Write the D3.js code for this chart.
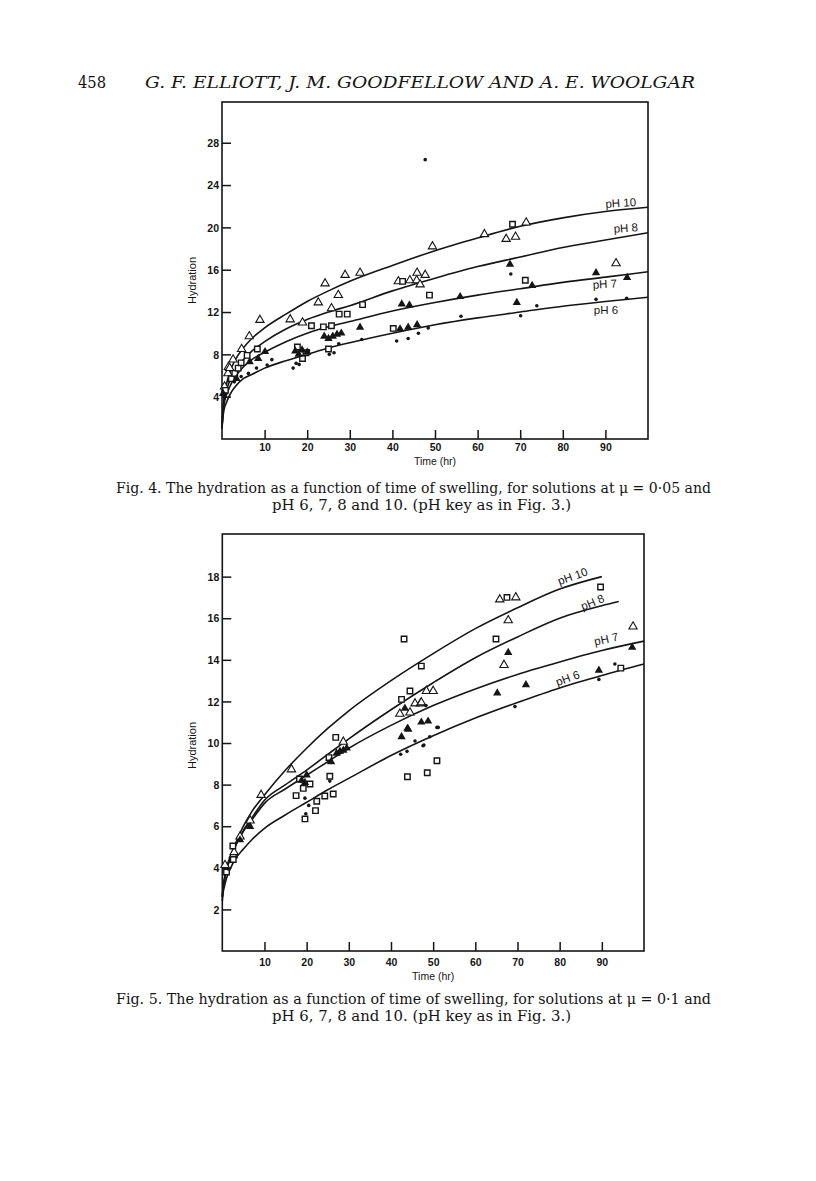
<!DOCTYPE html>
<meta charset="utf-8">
<script src="https://d3js.org/d3.v7.min.js"></script>
<style>
  body { margin: 0; background: #fff; }
  svg { display: block; }
</style>
<div id="page"></div>
<script>

    // ---------- Fig. 4 (mu = 0.05) ----------
    var tCurve4 = [0, 0.2, 0.5, 1, 2, 3, 5, 7, 10, 15, 20, 25, 30, 40, 50, 60, 70, 80, 90, 100];
    var fig4pH10 = [1.0, 2.7, 4.0, 5.1, 6.5, 7.4, 8.6, 9.5, 10.5, 11.8, 13.0, 14.0, 14.9, 16.4, 17.8, 19.0, 20.1, 20.9, 21.5, 21.9];
    var fig4pH8 = [1.0, 2.5, 3.6, 4.5, 5.7, 6.4, 7.5, 8.3, 9.2, 10.4, 11.3, 12.0, 12.6, 14.0, 15.2, 16.3, 17.2, 18.1, 18.8, 19.5];
    var fig4pH7 = [1.0, 2.3, 3.3, 4.1, 5.1, 5.8, 6.8, 7.5, 8.2, 9.2, 10.0, 10.6, 11.1, 12.1, 12.9, 13.6, 14.2, 14.8, 15.3, 15.8];
    var fig4pH6 = [1.0, 2.0, 2.8, 3.4, 4.3, 4.9, 5.7, 6.1, 6.7, 7.4, 8.0, 8.6, 9.1, 10.0, 10.8, 11.45, 12.0, 12.55, 13.0, 13.4];

    // points: [time, hydration]
    var fig4OpenTri = [[0.6, 4.95], [1.4, 6.2], [1.5, 6.8], [1.8, 6.7], [2.6, 7.5], [4.6, 8.5], [6.4, 9.7], [8.9, 11.25],
        [16.0, 11.3], [18.9, 11.0], [22.6, 12.9], [24.2, 14.7], [25.7, 12.35], [27.3, 13.6], [28.9, 15.5], [32.4, 15.7],
        [41.4, 14.9], [44.1, 15.0], [45.7, 15.0], [45.8, 15.7], [46.5, 14.6], [47.7, 15.5], [49.4, 18.2], [61.6, 19.35],
        [66.7, 18.9], [68.9, 19.1], [71.4, 20.45], [92.5, 16.6]];
    var fig4Square = [[0.8, 4.6], [2.2, 5.7], [3.0, 6.2], [3.8, 6.7], [4.5, 7.2], [5.9, 7.9], [8.3, 8.5], [17.7, 8.7],
        [18.9, 7.6], [19.7, 8.15], [21.0, 10.7], [23.8, 10.6], [25.0, 8.5], [25.7, 10.7], [27.5, 11.8], [29.4, 11.8],
        [33.0, 12.7], [40.2, 10.45], [42.4, 14.9], [48.7, 13.6], [68.2, 20.3], [71.2, 15.0]];
    var fig4FillTri = [[0.25, 4.3], [3.4, 5.7], [6.5, 7.3], [8.5, 7.6], [10.1, 8.25], [17.2, 8.3], [18.0, 8.0], [18.8, 8.4],
        [20.0, 8.2], [24.0, 9.7], [25.0, 9.5], [26.0, 9.7], [27.0, 9.9], [28.0, 10.0], [32.4, 10.55], [41.8, 10.4],
        [42.2, 12.75], [43.7, 10.55], [44.0, 12.65], [45.8, 10.8], [55.9, 13.45], [67.6, 16.5], [69.2, 12.9],
        [72.8, 14.5], [87.8, 15.7], [95.1, 15.25]];
    var fig4Dot = [[0.6, 4.0], [2.9, 5.4], [4.5, 5.9], [6.2, 6.2], [8.1, 6.7], [10.6, 7.0], [11.7, 7.5], [16.7, 6.7],
        [17.4, 7.15], [18.1, 7.05], [20.3, 8.35], [25.2, 8.0], [26.3, 8.15], [27.4, 9.0], [32.8, 9.4], [41.0, 9.26],
        [43.7, 9.5], [46.1, 10.0], [47.7, 26.4], [48.4, 10.5], [56.1, 11.6], [67.8, 15.6], [70.1, 11.65], [73.9, 12.6],
        [87.8, 13.2], [95.0, 13.3]];

    // ---------- Fig. 5 (mu = 0.1) ----------
    var tCurve5 = [0, 0.2, 0.5, 1, 2, 3, 5, 7, 10, 15, 20, 25, 30, 40, 50, 60, 70, 80, 90];
    var fig5pH10 = [2.6, 3.1, 3.5, 4.0, 4.6, 5.1, 6.0, 6.7, 7.5, 8.7, 9.75, 10.7, 11.55, 13.0, 14.3, 15.5, 16.5, 17.4, 18.0];
    var fig5pH8 = [2.6, 3.0, 3.4, 3.9, 4.5, 5.0, 5.8, 6.4, 7.25, 8.0, 8.7, 9.45, 10.2, 11.6, 12.9, 14.1, 15.1, 16.0, 16.6, 16.8];
    var fig5pH7 = [2.6, 3.0, 3.4, 3.9, 4.5, 5.0, 5.75, 6.3, 7.1, 7.8, 8.45, 9.1, 9.75, 10.85, 11.8, 12.6, 13.3, 13.9, 14.45, 14.9];
    var fig5pH6 = [2.4, 2.8, 3.1, 3.5, 4.0, 4.4, 4.9, 5.35, 5.9, 6.55, 7.15, 7.75, 8.3, 9.4, 10.35, 11.2, 11.95, 12.65, 13.25, 13.8];
    var tEnd5 = { pH8: 94, pH7: 100, pH6: 100 };

    var fig5OpenTri = [[0.64, 4.13], [2.6, 4.6], [2.8, 4.75], [4.2, 5.5], [6.6, 6.27], [9.2, 7.5], [16.4, 8.73],
        [28.7, 10.06], [42.1, 11.4], [44.5, 11.46], [45.7, 11.9], [47.0, 11.9], [47.2, 11.95], [48.4, 12.5], [50.0, 12.5],
        [65.8, 16.9], [66.8, 13.75], [67.8, 15.9], [69.6, 17.0], [97.4, 15.6]];
    var fig5Square = [[1.0, 3.8], [2.5, 5.05], [2.6, 4.4], [17.5, 7.47], [18.3, 8.27], [19.2, 7.82], [19.6, 6.35],
        [20.8, 8.03], [22.1, 6.75], [22.4, 7.2], [24.3, 7.45], [25.3, 9.3], [25.5, 8.4], [26.3, 7.55], [26.9, 10.27],
        [42.5, 12.1], [43.1, 15.0], [43.9, 8.38], [44.5, 12.5], [47.2, 13.7], [48.6, 8.57], [50.9, 9.15], [64.9, 15.0],
        [67.5, 17.0], [89.7, 17.5], [94.5, 13.6]];
    var fig5FillTri = [[4.2, 5.34], [6.6, 5.98], [18.8, 8.2], [19.6, 8.1], [20.0, 8.46], [25.8, 9.1], [27.1, 9.5],
        [27.9, 9.6], [28.7, 9.65], [29.5, 9.75], [42.5, 10.3], [43.3, 11.67], [43.9, 10.7], [44.1, 10.66], [47.2, 11.0],
        [48.8, 11.05], [65.2, 12.4], [67.8, 14.35], [72.0, 12.8], [89.3, 13.5], [97.2, 14.6]];
    var fig5Dot = [[1.4, 3.95], [19.6, 7.35], [19.8, 6.6], [20.5, 7.0], [25.5, 8.17], [42.3, 9.46], [43.8, 9.6],
        [45.7, 10.1], [47.6, 9.87], [47.8, 9.9], [48.3, 11.8], [49.2, 10.3], [50.9, 10.75], [51.2, 10.75], [69.4, 11.75],
        [89.3, 13.06], [93.1, 13.8]];

    var xTicks = [10, 20, 30, 40, 50, 60, 70, 80, 90];
    var yTicks4 = [4, 8, 12, 16, 20, 24, 28];
    var yTicks5 = [2, 4, 6, 8, 10, 12, 14, 16, 18];

    var W = 816, H = 1181;
    var svg = d3.select("#page").append("svg")
        .attr("width", W)
        .attr("height", H)
        .attr("viewBox", "0 0 " + W + " " + H);

    svg.append("rect").attr("width", W).attr("height", H).attr("fill", "#fff");

    var serif = "'DejaVu Serif', 'Liberation Serif', serif";
    var sans = "'Liberation Sans', Arial, sans-serif";
    var ink = "#151515";

    // running head
    svg.append("text").attr("x", 78).attr("y", 88)
        .attr("font-family", serif).attr("font-size", 16).attr("fill", ink)
        .attr("textLength", 28).attr("lengthAdjust", "spacingAndGlyphs")
        .text("458");
    svg.append("text").attr("x", 145).attr("y", 88)
        .attr("font-family", serif).attr("font-size", 17).attr("font-style", "italic").attr("fill", ink)
        .attr("textLength", 550).attr("lengthAdjust", "spacingAndGlyphs")
        .text("G. F. ELLIOTT, J. M. GOODFELLOW AND A. E. WOOLGAR");

    function caption(lines, y) {
        lines.forEach(function (l, i) {
            svg.append("text").attr("x", l.x).attr("y", y + i * 17)
                .attr("font-family", serif).attr("font-size", 14.5).attr("fill", ink)
                .attr("textLength", l.w).attr("lengthAdjust", "spacingAndGlyphs")
                .text(l.s);
        });
    }

    function panel(o) {
        var x = d3.scaleLinear().domain([0, 100]).range([o.left, o.right]);
        var y = d3.scaleLinear().domain([0, o.ymax]).range([o.bottom, o.top]);
        var g = svg.append("g");

        // frame
        g.append("rect")
            .attr("x", o.left).attr("y", o.top)
            .attr("width", o.right - o.left).attr("height", o.bottom - o.top)
            .attr("fill", "none").attr("stroke", ink).attr("stroke-width", 1.6);

        // axes: ticks point inward
        var ax = g.append("g").attr("transform", "translate(0," + o.bottom + ")")
            .call(d3.axisBottom(x).tickValues(xTicks).tickSizeInner(-9).tickSizeOuter(0));
        var ay = g.append("g").attr("transform", "translate(" + o.left + ",0)")
            .call(d3.axisLeft(y).tickValues(o.yTicks).tickSizeInner(-9).tickSizeOuter(0));
        [ax, ay].forEach(function (a) {
            a.select(".domain").remove();
            a.selectAll("line").attr("stroke", ink).attr("stroke-width", 1.5);
            a.selectAll("text").attr("font-family", sans).attr("font-size", 10.5)
                .attr("font-weight", "bold").attr("fill", ink);
        });
        ax.selectAll("text").attr("y", o.tickLab).attr("dy", 0);
        ay.selectAll("text").attr("x", -3).attr("dy", "0.35em");

        g.append("text")
            .attr("transform", "translate(" + (o.left - 26) + "," + ((o.top + o.bottom) / 2 + o.ylabOff) + ") rotate(-90)")
            .attr("text-anchor", "middle").attr("font-family", sans).attr("font-size", 11).attr("fill", ink)
            .text("Hydration");
        g.append("text")
            .attr("x", x(50)).attr("y", o.bottom + o.xlab)
            .attr("text-anchor", "middle").attr("font-family", sans).attr("font-size", 10.5).attr("fill", ink)
            .text("Time (hr)");

        // fitted curves
        var line = d3.line()
            .x(function (d) { return x(d[0]); })
            .y(function (d) { return y(d[1]); })
            .curve(d3.curveMonotoneX);
        o.curves.forEach(function (c) {
            var pts = c.v.map(function (v, i) { return [c.t[i], v]; });
            g.append("path").attr("d", line(pts))
                .attr("fill", "none").attr("stroke", ink).attr("stroke-width", 1.6);
            g.append("text")
                .attr("transform", "translate(" + c.lx + "," + c.ly + ") rotate(" + c.rot + ")")
                .attr("text-anchor", "middle").attr("font-family", sans).attr("font-size", 11.5).attr("fill", ink)
                .text(c.name);
        });

        var tri = d3.symbol().type(d3.symbolTriangle).size(30);
        var sq = d3.symbol().type(d3.symbolSquare).size(30);

        g.selectAll(null).data(o.openTri).enter().append("path")
            .attr("d", tri)
            .attr("transform", function (d) { return "translate(" + x(d[0]) + "," + y(d[1]) + ")"; })
            .attr("fill", "#fff").attr("stroke", ink).attr("stroke-width", 1.1);
        g.selectAll(null).data(o.square).enter().append("path")
            .attr("d", sq)
            .attr("transform", function (d) { return "translate(" + x(d[0]) + "," + y(d[1]) + ")"; })
            .attr("fill", "#fff").attr("stroke", ink).attr("stroke-width", 1.4);
        g.selectAll(null).data(o.fillTri).enter().append("path")
            .attr("d", tri)
            .attr("transform", function (d) { return "translate(" + x(d[0]) + "," + y(d[1]) + ")"; })
            .attr("fill", ink);
        g.selectAll(null).data(o.dot).enter().append("circle")
            .attr("cx", function (d) { return x(d[0]); })
            .attr("cy", function (d) { return y(d[1]); })
            .attr("r", 1.8).attr("fill", ink);
    }

    function tUpTo(end) {
        return tCurve5.concat(end > 90 ? [end] : []);
    }

    panel({
        left: 222, right: 648, top: 102, bottom: 439, ymax: 31.85, yTicks: yTicks4, ylabOff: 10,
        tickLab: 12, xlab: 26,
        curves: [
            { name: "pH 10", t: tCurve4, v: fig4pH10, lx: 621, ly: 207, rot: -4 },
            { name: "pH 8", t: tCurve4, v: fig4pH8, lx: 626, ly: 232, rot: -4 },
            { name: "pH 7", t: tCurve4, v: fig4pH7, lx: 605, ly: 288, rot: -3 },
            { name: "pH 6", t: tCurve4, v: fig4pH6, lx: 606, ly: 314, rot: 0 }
        ],
        openTri: fig4OpenTri, square: fig4Square, fillTri: fig4FillTri, dot: fig4Dot
    });

    panel({
        left: 222.3, right: 644, top: 534, bottom: 951, ymax: 20.05, yTicks: yTicks5, ylabOff: 3,
        tickLab: 15, xlab: 29,
        curves: [
            { name: "pH 10", t: tCurve5, v: fig5pH10, lx: 574, ly: 580, rot: -20 },
            { name: "pH 8", t: tUpTo(tEnd5.pH8), v: fig5pH8, lx: 594, ly: 606, rot: -22 },
            { name: "pH 7", t: tUpTo(tEnd5.pH7), v: fig5pH7, lx: 607, ly: 643, rot: -12 },
            { name: "pH 6", t: tUpTo(tEnd5.pH6), v: fig5pH6, lx: 569, ly: 682, rot: -20 }
        ],
        openTri: fig5OpenTri, square: fig5Square, fillTri: fig5FillTri, dot: fig5Dot
    });

    caption([
        { x: 116, w: 595, s: "Fig. 4. The hydration as a function of time of swelling, for solutions at \u03bc = 0\u00b705 and" },
        { x: 272, w: 299, s: "pH 6, 7, 8 and 10. (pH key as in Fig. 3.)" }
    ], 493);
    caption([
        { x: 116, w: 595, s: "Fig. 5. The hydration as a function of time of swelling, for solutions at \u03bc = 0\u00b71 and" },
        { x: 272, w: 299, s: "pH 6, 7, 8 and 10. (pH key as in Fig. 3.)" }
    ], 1004);

</script>
